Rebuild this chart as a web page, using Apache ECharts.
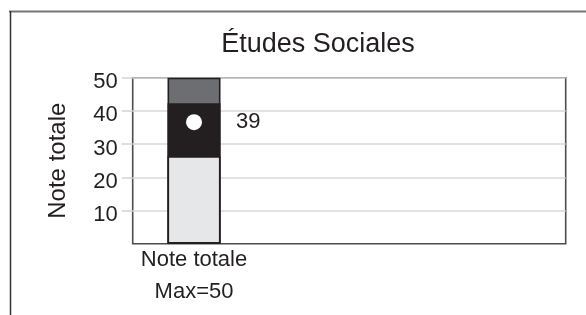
<!DOCTYPE html>
<html>
<head>
<meta charset="utf-8">
<script src="https://cdn.jsdelivr.net/npm/echarts@6/dist/echarts.min.js"></script>
<style>html,body{margin:0;padding:0;background:#fff}#c{width:586px;height:315px}</style>
</head>
<body>
<div id="c"></div>
<script>
var categories = ['Note totale'];
var maxLabels = ['Max=50'];
var barPos = [14.16];
var lowTop = [26.4];
var midTop = [42.3];
var highTop = [50];
var dotValues = [36.6];
var scoreLabels = ['39'];
var yTicks = [10, 20, 30, 40, 50];

var FONT = 'Liberation Sans, Arial, sans-serif';
var TXT = '#231f20';
var chart = echarts.init(document.getElementById('c'));

function seg(vals, color, name, z) {
  return {
    name: name, type: 'bar', barWidth: 53, barGap: '-100%', z: z,
    data: vals.map(function (v, i) { return [barPos[i], v]; }),
    itemStyle: { color: color, borderColor: '#231f20', borderWidth: 1.6, opacity: 1 },
    emphasis: { disabled: true }
  };
}

chart.setOption({
  animation: false,
  title: {
    text: 'Études Sociales', left: 313, top: 26, textAlign: 'center',
    textStyle: { fontFamily: FONT, fontSize: 27, fontWeight: 'normal', color: TXT }
  },
  graphic: [
    { type: 'line', shape: { x1: 9, y1: 11.5, x2: 586, y2: 11.5 }, style: { stroke: '#777', lineWidth: 2 } },
    { type: 'line', shape: { x1: 10.5, y1: 11, x2: 10.5, y2: 315 }, style: { stroke: '#333', lineWidth: 1.5 } }
  ],
  grid: {
    left: 132.7, right: 20.3, top: 77.7, bottom: 71.3,
    show: true, borderColor: '#4d4d4d', borderWidth: 1.6, backgroundColor: 'transparent'
  },
  xAxis: {
    type: 'value', min: 0, max: 100,
    axisLine: { show: false }, axisTick: { show: false }, splitLine: { show: false },
    axisLabel: {
      customValues: barPos, margin: 0, lineHeight: 32,
      fontFamily: FONT, fontSize: 22, color: TXT,
      formatter: function (v) {
        var i = barPos.indexOf(v);
        return i >= 0 ? categories[i] + '\n' + maxLabels[i] : '';
      }
    }
  },
  yAxis: {
    type: 'value', min: 0, max: 50, interval: 10,
    name: 'Note totale', nameLocation: 'middle', nameGap: 62,
    nameTextStyle: { fontFamily: FONT, fontSize: 24, color: TXT },
    axisLine: { show: false },
    axisTick: { show: true, customValues: yTicks, length: 11, lineStyle: { color: '#d4d4d4', width: 1.5 } },
    splitLine: { show: true, lineStyle: { color: '#d9d9d9', width: 1.5 } },
    axisLabel: {
      customValues: yTicks, margin: 15, verticalAlign: 'middle',
      fontFamily: FONT, fontSize: 22, color: TXT,
      formatter: function (v) { return '{t|' + v + '}'; },
      rich: { t: { fontFamily: FONT, fontSize: 22, color: TXT, padding: [9, 0, 0, 0] } }
    }
  },
  series: [
    seg(highTop, '#6d6e71', 'high', 2),
    seg(midTop, '#231f20', 'mid', 3),
    seg(lowTop, '#e6e7e8', 'low', 4),
    {
      type: 'scatter', symbol: 'circle', symbolSize: 16, z: 6,
      data: dotValues.map(function (v, i) { return [barPos[i], v]; }),
      itemStyle: { color: '#ffffff', opacity: 1 },
      label: {
        show: true, position: 'right', distance: 34,
        fontFamily: FONT, fontSize: 22, color: TXT, opacity: 1,
        formatter: function (p) { return scoreLabels[p.dataIndex]; }
      },
      emphasis: { disabled: true }
    }
  ]
});
</script>
</body>
</html>
